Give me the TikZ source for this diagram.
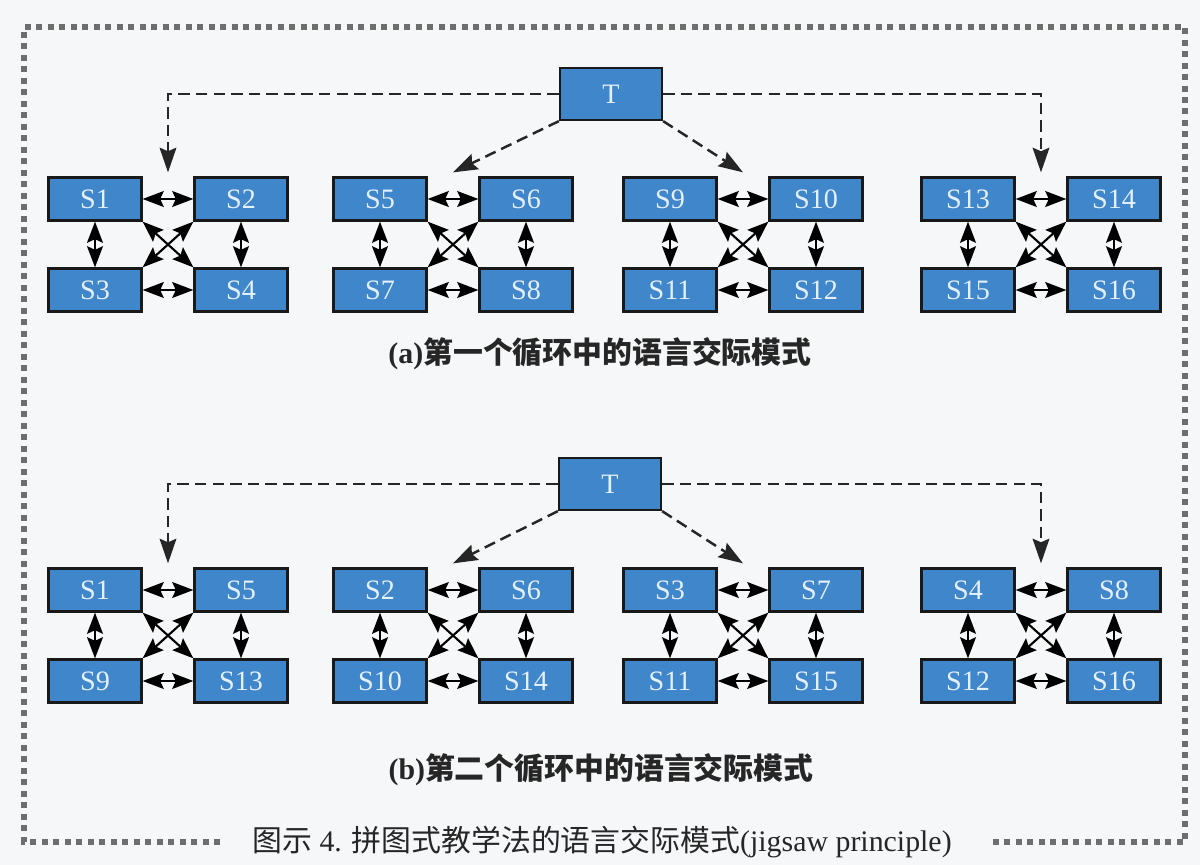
\documentclass[tikz,border=0pt]{standalone}
\usepackage{fontspec}
\setmainfont{Liberation Serif}
\newfontfamily\cjk{Noto Sans CJK SC}
\usetikzlibrary{arrows.meta, positioning, calc}

\definecolor{paper}{RGB}{246,247,249}
\definecolor{boxblue}{RGB}{64,134,202}
\definecolor{boxtext}{RGB}{228,240,252}
\definecolor{framegray}{RGB}{110,110,110}

\tikzset{
  stu/.style={draw=black!90, line width=1.3pt, fill=boxblue, text=boxtext,
    minimum width=1.86cm, minimum height=0.86cm, inner sep=0pt,
    font=\fontsize{16}{18}\selectfont},
  tch/.style={stu, minimum width=2.04cm, minimum height=1.04cm},
  talk/.style={{Stealth[length=12pt,width=9pt,inset=2pt]}-{Stealth[length=12pt,width=9pt,inset=2pt]}, line width=1.2pt},
  lead/.style={-{Stealth[length=14pt,width=9.5pt,inset=2pt]}, dash pattern=on 6.5pt off 3.5pt, line width=1.4pt, draw=black!85},
  caption/.style={text=black!85, font=\fontsize{17}{20}\selectfont},
  frame/.style={draw=framegray, line width=0.12cm, dash pattern=on 0.12cm off 0.11cm}
}

\begin{document}
\begin{tikzpicture}[x=0.02cm, y=-0.02cm]
  % paper and frame
  \fill[paper] (0,0) rectangle (1200,865);
  \draw[frame] (220,842) -- (24,842) -- (24,27) -- (1185,27) -- (1185,842) -- (990,842);

  % (a) first cycle
  \node[tch] (Ta) at (611,94) {T};
  \foreach \g/\gx in {0/95, 1/380, 2/670, 3/968} {
    \pgfmathtruncatemacro{\sa}{4*\g+1}
    \pgfmathtruncatemacro{\sb}{4*\g+2}
    \pgfmathtruncatemacro{\sc}{4*\g+3}
    \pgfmathtruncatemacro{\sd}{4*\g+4}
    \node[stu] (a\sa) at (\gx,199) {S\sa};
    \node[stu] (a\sb) at (\gx+146,199) {S\sb};
    \node[stu] (a\sc) at (\gx,290) {S\sc};
    \node[stu] (a\sd) at (\gx+146,290) {S\sd};
    \draw[talk] (a\sa.east) -- (a\sb.west);
    \draw[talk] (a\sc.east) -- (a\sd.west);
    \draw[talk] (a\sa.south) -- (a\sc.north);
    \draw[talk] (a\sb.south) -- (a\sd.north);
    \draw[talk] (a\sa.south east) -- (a\sd.north west);
    \draw[talk] (a\sb.south west) -- (a\sc.north east);
    \coordinate (ain\g) at ($(a\sa.north east)!0.5!(a\sb.north west)+(0,-4)$);
  }
  \draw[lead] (Ta.west) -| (ain0);
  \draw[lead] (Ta.east) -| (ain3);
  \draw[lead] (Ta.south west) -- (ain1);
  \draw[lead] (Ta.south east) -- (ain2);
  \node[caption] (capa) at (600,354) {\bfseries (a)\cjk 第一个循环中的语言交际模式};

  % (b) second cycle
  \node[tch] (Tb) at (610,484) {T};
  \foreach \g/\gx in {0/95, 1/380, 2/670, 3/968} {
    \pgfmathtruncatemacro{\sa}{\g+1}
    \pgfmathtruncatemacro{\sb}{\g+5}
    \pgfmathtruncatemacro{\sc}{\g+9}
    \pgfmathtruncatemacro{\sd}{\g+13}
    \node[stu] (b\sa) at (\gx,590) {S\sa};
    \node[stu] (b\sb) at (\gx+146,590) {S\sb};
    \node[stu] (b\sc) at (\gx,681) {S\sc};
    \node[stu] (b\sd) at (\gx+146,681) {S\sd};
    \draw[talk] (b\sa.east) -- (b\sb.west);
    \draw[talk] (b\sc.east) -- (b\sd.west);
    \draw[talk] (b\sa.south) -- (b\sc.north);
    \draw[talk] (b\sb.south) -- (b\sd.north);
    \draw[talk] (b\sa.south east) -- (b\sd.north west);
    \draw[talk] (b\sb.south west) -- (b\sc.north east);
    \coordinate (bin\g) at ($(b\sa.north east)!0.5!(b\sb.north west)+(0,-4)$);
  }
  \draw[lead] (Tb.west) -| (bin0);
  \draw[lead] (Tb.east) -| (bin3);
  \draw[lead] (Tb.south west) -- (bin1);
  \draw[lead] (Tb.south east) -- (bin2);
  \node[caption] (capb) at (601,770) {\bfseries (b)\cjk 第二个循环中的语言交际模式};

  % figure title
  \node[caption, fill=paper, inner xsep=2pt] (title) at (602,842)
    {{\cjk 图示} 4. {\cjk 拼图式教学法的语言交际模式}(jigsaw principle)};
\end{tikzpicture}
\end{document}
